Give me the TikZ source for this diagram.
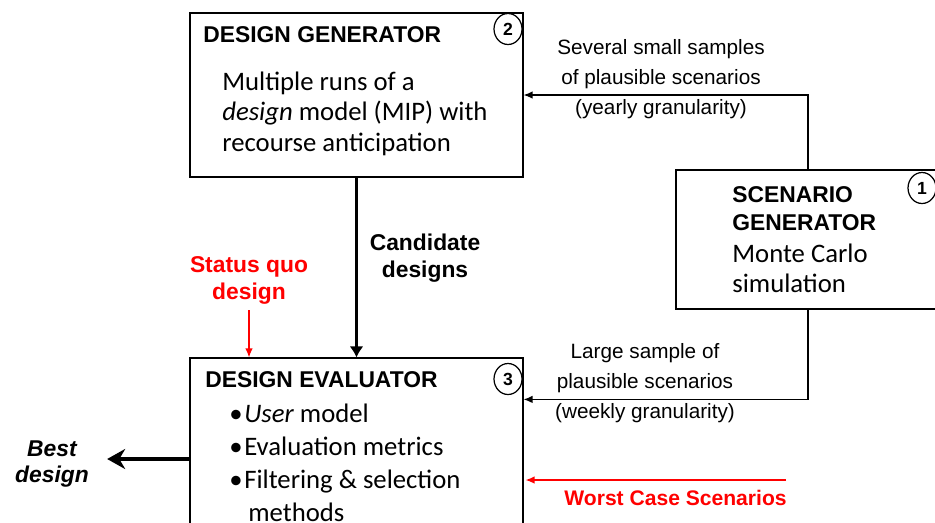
\documentclass[tikz,border=0pt]{standalone}
\usepackage{fontspec}
\setmainfont{Carlito}
\newfontfamily\arialfont{Liberation Sans}
\usetikzlibrary{positioning, arrows.meta, shapes.geometric, calc}
\definecolor{FlowRed}{HTML}{FF0000}

\tikzset{
  box/.style={draw, line width=0.7pt, inner sep=0pt},
  num/.style={draw, ellipse, line width=0.7pt, minimum width=0.56cm, minimum height=0.62cm,
    inner sep=0pt, font=\arialfont\bfseries\fontsize{10}{10}\selectfont},
  title/.style={anchor=base west, align=left, inner sep=0pt,
    font=\arialfont\bfseries\fontsize{13}{15.9}\selectfont},
  body/.style={anchor=base west, align=left, inner sep=0pt,
    font=\fontsize{15.2}{17.3}\selectfont},
  lbl/.style={anchor=base, align=center, inner sep=0pt,
    font=\arialfont\fontsize{11.8}{17}\selectfont},
  boldlbl/.style={anchor=base, align=center, inner sep=0pt,
    font=\arialfont\bfseries\fontsize{13}{15.3}\selectfont},
  thinarrow/.style={line width=0.7pt, -{Latex[length=1.8mm, width=1.5mm]}},
  redarrow/.style={FlowRed, line width=0.7pt, -{Latex[length=1.8mm, width=1.5mm]}},
  midarrow/.style={line width=1.8pt, -{Latex[length=2.2mm, width=2.8mm]}},
  bigarrow/.style={line width=2.8pt, -{Stealth[length=3.6mm, width=4mm]}}
}

\begin{document}
\begin{tikzpicture}[x=0.02cm, y=-0.02cm]
  \useasboundingbox (0,0) rectangle (935,522);

  % Boxes
  \node[box, minimum width=6.66cm, minimum height=3.28cm] (gen) at (356.5,95) {};
  \node[box, minimum width=5.28cm, minimum height=2.78cm] (scen) at (808,239.5) {};
  \node[box, minimum width=6.66cm, minimum height=4.04cm] (eval) at (356.5,459) {};

  % Numbers
  \node[num] (n2) at (508,29) {2};
  \node[num] (n1) at (922,188) {1};
  \node[num] (n3) at (508,379) {3};

  % Box texts (base = last line)
  \node[title] (gentitle) at (203,42) {DESIGN GENERATOR};
  \node[body] (genbody) at (222,151) {Multiple runs of a\\\textit{design} model (MIP) with\\recourse anticipation};
  \node[title] (scentitle) at (732,230) {SCENARIO\\GENERATOR};
  \node[body, font=\fontsize{15.2}{17}\selectfont] (scenbody) at (732,292) {Monte Carlo\\simulation};
  \node[title] (evaltitle) at (205,387) {DESIGN EVALUATOR};
  \node[body, font=\fontsize{15.2}{18.7}\selectfont] (evalbody) at (229,521)
    {\makebox[8.5pt][l]{•}\textit{User} model\\
     \makebox[8.5pt][l]{•}Evaluation metrics\\
     \makebox[8.5pt][l]{•}Filtering \& selection\\
     \makebox[10.8pt][l]{}methods};

  % Labels
  \node[lbl] (yearly) at (661,114) {Several small samples\\of plausible scenarios\\(yearly granularity)};
  \node[lbl] (weekly) at (645,418) {Large sample of\\plausible scenarios\\(weekly granularity)};
  \node[boldlbl] (cand) at (425,277) {Candidate\\designs};
  \node[boldlbl, text=FlowRed] (sq) at (249,299) {Status quo\\design};
  \node[boldlbl, font=\arialfont\bfseries\itshape\fontsize{13}{14.7}\selectfont, inner xsep=0.36cm] (bd) at (52,482) {Best\\design};
  \node[anchor=base east, inner sep=0pt, text=FlowRed, font=\arialfont\bfseries\fontsize{12}{14}\selectfont] (wc) at (787,505) {Worst Case Scenarios};
  \coordinate (wcstart) at (786,480);

  % Connectors
  \draw[thinarrow] (scen.north) |- (gen.east);
  \draw[thinarrow] (scen.south) |- ($(eval.north east)+(0,42)$);
  \draw[midarrow] (gen.south) -- (gen.south |- eval.north);
  \draw[redarrow] ([yshift=-0.12cm]sq.south) -- (sq.south |- eval.north);
  \draw[redarrow] (wcstart) -- ($(wcstart -| eval.east)+(2,0)$);
  \draw[bigarrow] (eval.west) -- (eval.west -| bd.east);
\end{tikzpicture}
\end{document}
